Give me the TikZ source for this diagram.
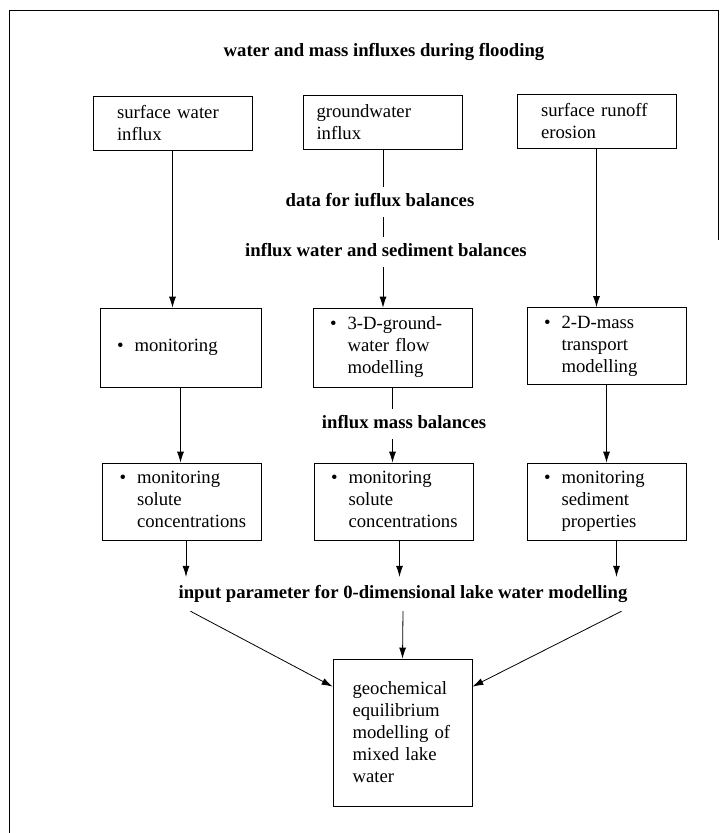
\documentclass[tikz,border=0pt]{standalone}
\usepackage{fontspec}
\setmainfont{Liberation Serif}
\usepackage{tikz}
\usetikzlibrary{calc}
\usetikzlibrary{arrows}
\usetikzlibrary{arrows.meta}
\usetikzlibrary{positioning}
\tikzset{>={Latex[length=11pt, width=7pt]}}
\tikzstyle{box} = [draw = black, line width = 0.7pt, rectangle, align = left, inner xsep = 17pt, text width = 125pt, font = \fontsize{18.7}{22}\selectfont]
\tikzstyle{lbl} = [inner xsep = 0pt, inner ysep = 7pt, text height = 12pt, text depth = 4pt, font = \bfseries\fontsize{18.7}{22}\selectfont]
\tikzstyle{link} = [draw = black, line width = 0.8pt]
\newcommand{\bpoint}[1]{\mbox{\textbullet\hspace{11pt}\begin{tabular}[t]{@{}l@{}}#1\end{tabular}}}

\begin{document}
\begin{tikzpicture}[x = 1pt, y = -1pt]
\useasboundingbox (0, 0) rectangle (721, 833);
\draw [link] (9, 833) -- (9, 10) -- (718, 10) -- (718, 240);
\node [lbl] (title) at (384, 52) {water and mass influxes during flooding};
\node [box, minimum height = 54pt, inner xsep = 24pt, text width = 111pt] (swIn) at (172.5, 123) {surface water\\influx};
\node [box, minimum height = 54pt, inner xsep = 13pt, text width = 133pt] (gwIn) at (383, 122) {groundwater\\influx};
\node [box, minimum height = 54pt, inner xsep = 24pt, text width = 111pt] (roIn) at (596.5, 121.5) {surface runoff\\erosion};
\node [lbl] (dataLbl) at (380, 202) {data for iuflux balances};
\node [lbl] (balLbl) at (386, 252) {influx water and sediment balances};
\node [box, minimum height = 79pt, text width = 127pt] (swMon) at (180.5, 347.5) {\bpoint{monitoring}};
\node [box, minimum height = 79pt] (gwMod) at (392.5, 347.5) {\bpoint{3-D-ground-\\water flow\\modelling}};
\node [box, minimum height = 77pt] (roMod) at (606.5, 346) {\bpoint{2-D-mass\\transport\\modelling}};
\node [lbl] (massLbl) at (404, 424) {influx mass balances};
\node [box, minimum height = 77pt] (swSol) at (182, 501.5) {\bpoint{monitoring\\solute\\concentrations}};
\node [box, minimum height = 77pt] (gwSol) at (393.5, 501.5) {\bpoint{monitoring\\solute\\concentrations}};
\node [box, minimum height = 77pt] (sdProp) at (606.5, 501.5) {\bpoint{monitoring\\sediment\\properties}};
\node [lbl, inner ysep = 9pt] (inLbl) at (403, 594) {input parameter for 0-dimensional lake water modelling};
\node [box, minimum height = 147pt, inner xsep = 19.5pt, text width = 100pt] (geo) at (402.5, 732.5) {geochemical\\equilibrium\\modelling of\\mixed lake\\water};
\draw [link, ->] (swIn.south) to (swIn.south |- swMon.north);
\draw [link] (gwIn.south) to (gwIn.south |- dataLbl.north);
\draw [link] (gwIn.south |- dataLbl.south) to (gwIn.south |- balLbl.north);
\draw [link, ->] (gwIn.south |- balLbl.south) to (gwIn.south |- gwMod.north);
\draw [link, ->] (roIn.south) to (roIn.south |- roMod.north);
\draw [link, ->] (swMon.south) to (swMon.south |- swSol.north);
\draw [link] (gwMod.south) to (gwMod.south |- massLbl.north);
\draw [link, ->] (gwMod.south |- massLbl.south) to (gwMod.south |- gwSol.north);
\draw [link, ->] (roMod.south) to (roMod.south |- sdProp.north);
\draw [link, ->] ([xshift = 4pt]swSol.south) to ([xshift = 4pt]swSol.south |- inLbl.north);
\draw [link, ->] ([xshift = 6pt]gwSol.south) to ([xshift = 6pt]gwSol.south |- inLbl.north);
\draw [link, ->] ([xshift = 10pt]sdProp.south) to ([xshift = 10pt]sdProp.south |- inLbl.north);
\draw [link, ->] ([xshift = 12pt]inLbl.south west) to ([yshift = -28pt]geo.north west);
\draw [link, ->] (inLbl.south) to (geo.north);
\draw [link, ->] ([xshift = -6pt]inLbl.south east) to ([yshift = -28pt]geo.north east);
\end{tikzpicture}
\end{document}
